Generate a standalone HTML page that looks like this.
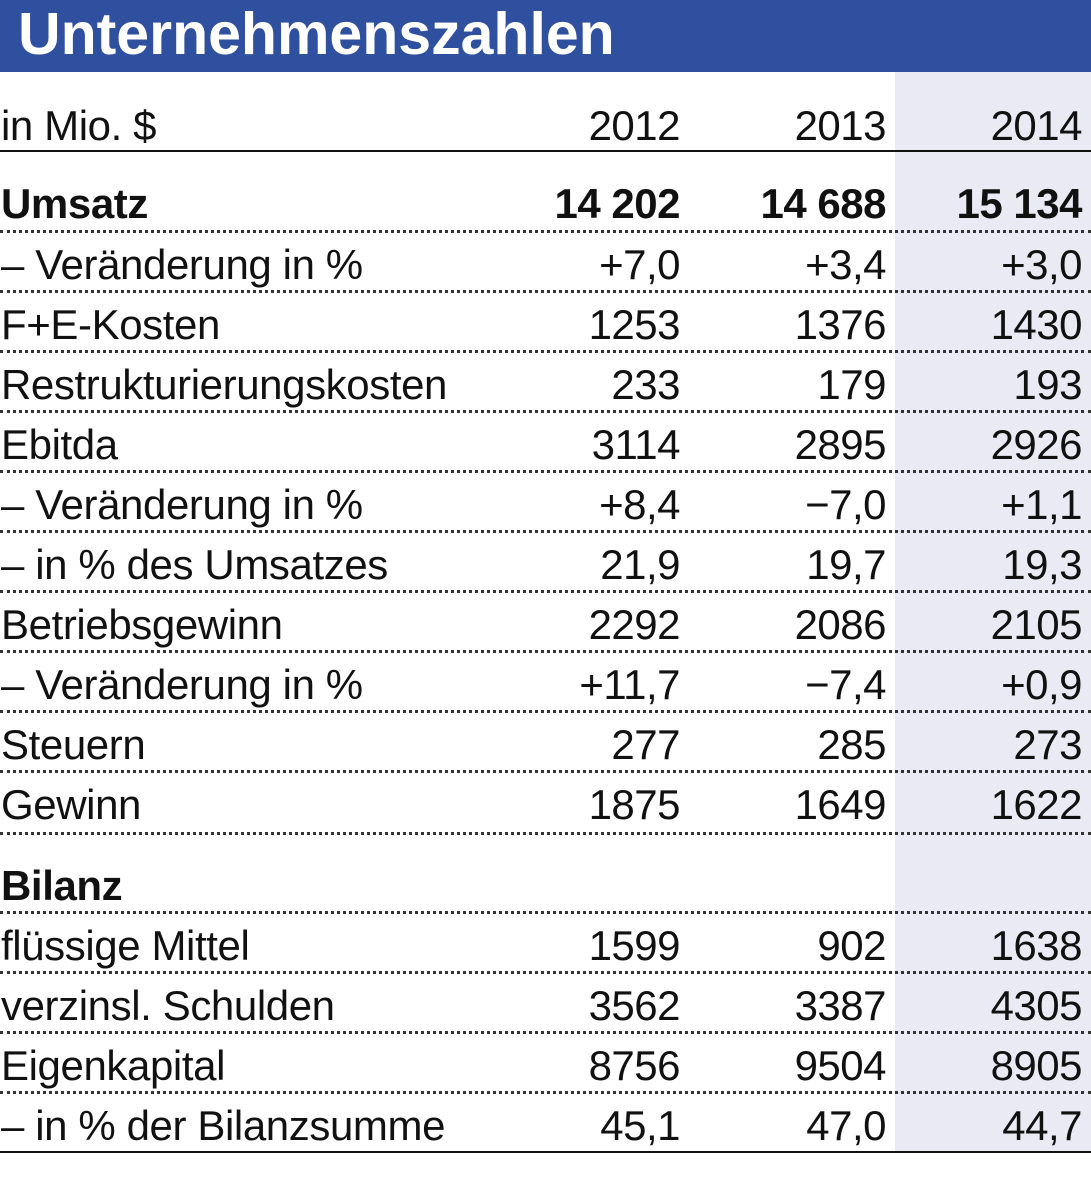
<!DOCTYPE html>
<html><head><meta charset="utf-8"><style>
body{margin:0;width:1091px;height:1182px;background:#fff;position:relative;overflow:hidden;font-family:"Liberation Sans",sans-serif;color:#111}
.hd{position:absolute;left:0;top:0;width:1091px;height:72px;background:#2f4f9f}
.hd span{position:absolute;left:18px;top:0px;font-size:59px;font-weight:bold;color:#fff;letter-spacing:0px}
.sh{position:absolute;left:895px;top:72px;width:196px;height:1080px;background:#e9eaf4}
.r{position:absolute;left:0;width:1091px;height:60px;font-size:42px;line-height:60px}
.r .l{position:absolute;left:1px;letter-spacing:-0.4px}
.r .a,.r .b,.r .c{position:absolute;text-align:right;width:200px;letter-spacing:-0.5px}
.a{left:480px}.b{left:686px}.c{left:882px}
.d{position:absolute;left:0;width:1091px;height:0;border-top:3px dotted #333}
.s{position:absolute;left:0;width:1091px;height:2px;background:#111}
.bo{font-weight:bold}
</style></head><body>
<div class="hd"><span>Unternehmenszahlen</span></div>
<div class="sh"></div>
<div class="r" style="top:96px"><span class="l">in Mio. $</span><span class="a">2012</span><span class="b">2013</span><span class="c">2014</span></div>
<div class="s" style="top:150px"></div>
<div class="r bo" style="top:174px"><span class="l">Umsatz</span><span class="a">14 202</span><span class="b">14 688</span><span class="c">15 134</span></div>
<div class="d" style="top:230px"></div>
<div class="r" style="top:235px"><span class="l">– Veränderung in %</span><span class="a">+7,0</span><span class="b">+3,4</span><span class="c">+3,0</span></div>
<div class="d" style="top:290px"></div>
<div class="r" style="top:295px"><span class="l">F+E-Kosten</span><span class="a">1253</span><span class="b">1376</span><span class="c">1430</span></div>
<div class="d" style="top:350px"></div>
<div class="r" style="top:355px"><span class="l">Restrukturierungskosten</span><span class="a">233</span><span class="b">179</span><span class="c">193</span></div>
<div class="d" style="top:410px"></div>
<div class="r" style="top:415px"><span class="l">Ebitda</span><span class="a">3114</span><span class="b">2895</span><span class="c">2926</span></div>
<div class="d" style="top:470px"></div>
<div class="r" style="top:475px"><span class="l">– Veränderung in %</span><span class="a">+8,4</span><span class="b">−7,0</span><span class="c">+1,1</span></div>
<div class="d" style="top:530px"></div>
<div class="r" style="top:535px"><span class="l">– in % des Umsatzes</span><span class="a">21,9</span><span class="b">19,7</span><span class="c">19,3</span></div>
<div class="d" style="top:590px"></div>
<div class="r" style="top:595px"><span class="l">Betriebsgewinn</span><span class="a">2292</span><span class="b">2086</span><span class="c">2105</span></div>
<div class="d" style="top:650px"></div>
<div class="r" style="top:655px"><span class="l">– Veränderung in %</span><span class="a">+11,7</span><span class="b">−7,4</span><span class="c">+0,9</span></div>
<div class="d" style="top:710px"></div>
<div class="r" style="top:715px"><span class="l">Steuern</span><span class="a">277</span><span class="b">285</span><span class="c">273</span></div>
<div class="d" style="top:770px"></div>
<div class="r" style="top:775px"><span class="l">Gewinn</span><span class="a">1875</span><span class="b">1649</span><span class="c">1622</span></div>
<div class="d" style="top:832px"></div>
<div class="r bo" style="top:856px"><span class="l">Bilanz</span></div>
<div class="d" style="top:911px"></div>
<div class="r" style="top:916px"><span class="l">flüssige Mittel</span><span class="a">1599</span><span class="b">902</span><span class="c">1638</span></div>
<div class="d" style="top:971px"></div>
<div class="r" style="top:976px"><span class="l">verzinsl. Schulden</span><span class="a">3562</span><span class="b">3387</span><span class="c">4305</span></div>
<div class="d" style="top:1031px"></div>
<div class="r" style="top:1036px"><span class="l">Eigenkapital</span><span class="a">8756</span><span class="b">9504</span><span class="c">8905</span></div>
<div class="d" style="top:1091px"></div>
<div class="r" style="top:1096px"><span class="l">– in % der Bilanzsumme</span><span class="a">45,1</span><span class="b">47,0</span><span class="c">44,7</span></div>
<div class="s" style="top:1151px"></div>
</body></html>
